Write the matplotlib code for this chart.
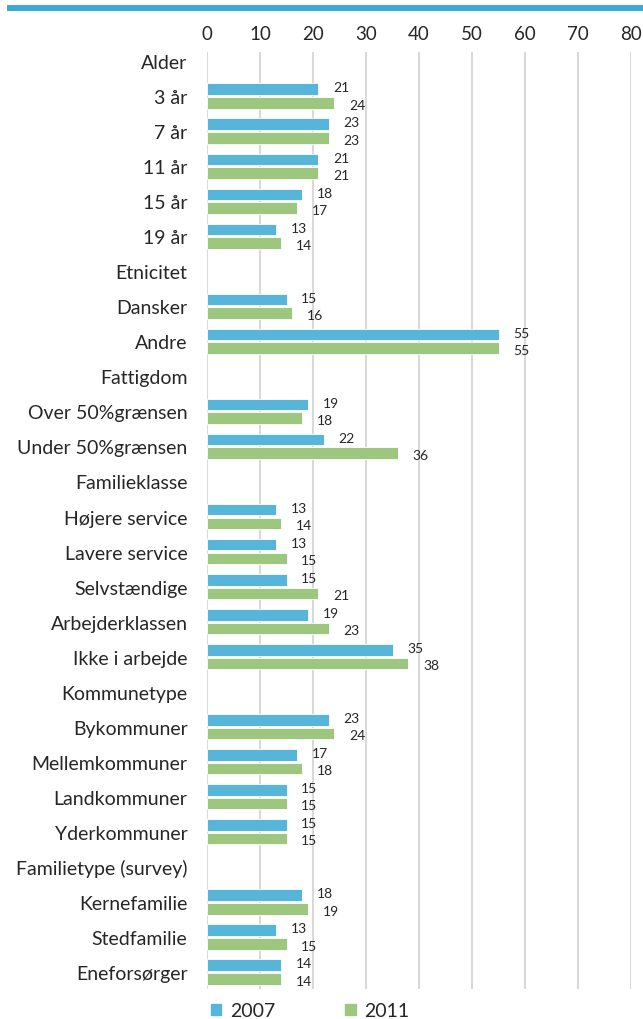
import numpy as np
import matplotlib.pyplot as plt
from matplotlib.patches import Rectangle

blue  = '#56B5D8'
green = '#9DC67F'
band  = '#3DA9D6'
grid  = '#D9D9D9'
text  = '#262626'

labels = ['Alder', '3 år', '7 år', '11 år', '15 år', '19 år',
          'Etnicitet', 'Dansker', 'Andre',
          'Fattigdom', 'Over 50%grænsen', 'Under 50%grænsen',
          'Familieklasse', 'Højere service', 'Lavere service', 'Selvstændige',
          'Arbejderklassen', 'Ikke i arbejde',
          'Kommunetype', 'Bykommuner', 'Mellemkommuner', 'Landkommuner', 'Yderkommuner',
          'Familietype (survey)', 'Kernefamilie', 'Stedfamilie', 'Eneforsørger']

v2007 = [None, 21, 23, 21, 18, 13,
         None, 15, 55,
         None, 19, 22,
         None, 13, 13, 15, 19, 35,
         None, 23, 17, 15, 15,
         None, 18, 13, 14]

v2011 = [None, 24, 23, 21, 17, 14,
         None, 16, 55,
         None, 18, 36,
         None, 14, 15, 21, 23, 38,
         None, 24, 18, 15, 15,
         None, 19, 15, 14]

xticks = [0, 10, 20, 30, 40, 50, 60, 70, 80]

plt.rcParams['font.family'] = ['Lato', 'DejaVu Sans']

W, H = 643, 1020
fig = plt.figure(figsize=(W / 100, H / 100), dpi=100)
ax = fig.add_axes([207 / W, 1 - 990 / H, (631 - 207) / W, (990 - 53) / H])

n = len(labels)
y = np.arange(n)
h = 0.33
off = 0.195

for i in range(n):
    if v2007[i] is None:
        continue
    ax.barh(y[i] - off, v2007[i], height=h, color=blue, edgecolor='white', linewidth=0.6, zorder=3)
    ax.barh(y[i] + off, v2011[i], height=h, color=green, edgecolor='white', linewidth=0.6, zorder=3)
    ax.text(v2007[i] + 2.8, y[i] - off - 0.05, str(v2007[i]), va='center', ha='left',
            fontsize=10, color=text)
    ax.text(v2011[i] + 2.8, y[i] + off + 0.05, str(v2011[i]), va='center', ha='left',
            fontsize=10, color=text)

ax.set_xlim(0, 80)
ax.set_ylim(n - 0.515, -0.257)
ax.set_xticks(xticks)
ax.xaxis.tick_top()
ax.tick_params(axis='x', length=0, pad=7, labelsize=13.5, labelcolor=text)
ax.set_yticks(y)
ax.set_yticklabels(labels)
ax.tick_params(axis='y', length=0, pad=14, labelsize=14, labelcolor=text)
ax.grid(axis='x', color=grid, linewidth=1.5, zorder=0)
for s in ax.spines.values():
    s.set_visible(False)

# blue band at the top
fig.add_artist(Rectangle((7 / W, 1 - 12 / H), 1, 6 / H, transform=fig.transFigure,
                         color=band, lw=0))

# legend
hs = [Rectangle((0, 0), 1, 1, color=blue), Rectangle((0, 0), 1, 1, color=green)]
fig.legend(hs, ['2007', '2011'], loc='center left', bbox_to_anchor=(193 / W, 1 - 1012 / H),
           ncol=2, frameon=False, fontsize=14, handlelength=0.55, handleheight=0.55,
           handletextpad=0.45, columnspacing=3.6, labelcolor=text)

plt.savefig('out.png')
plt.close()
